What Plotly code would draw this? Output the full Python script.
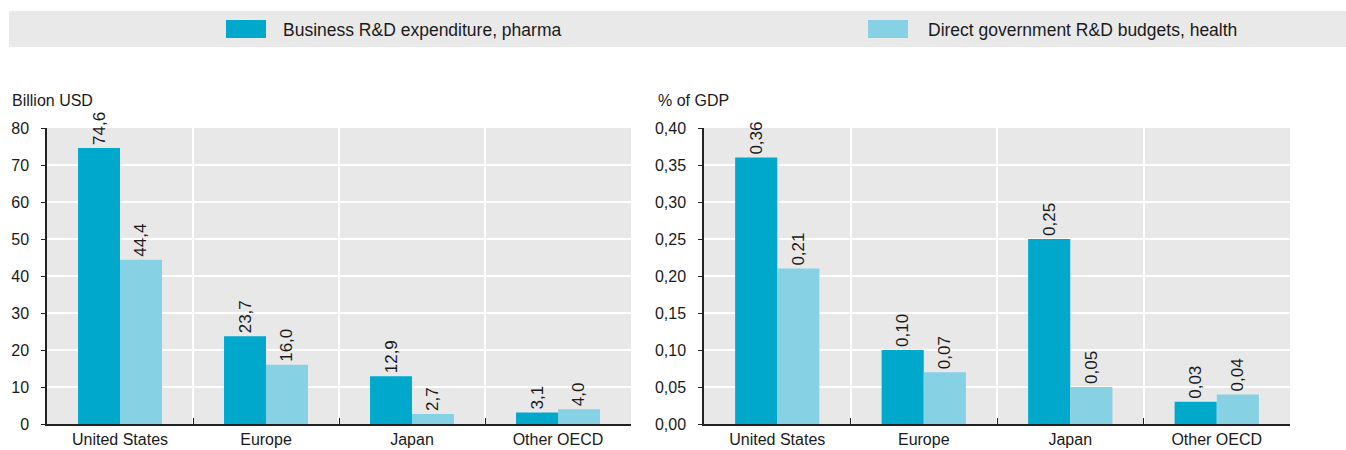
import plotly.graph_objects as go

regions = ["United States", "Europe", "Japan", "Other OECD"]
series_names = ["Business R&D expenditure, pharma", "Direct government R&D budgets, health"]

# Billion USD
business_usd = [74.6, 23.7, 12.9, 3.1]
government_usd = [44.4, 16.0, 2.7, 4.0]

# % of GDP
business_gdp = [0.36, 0.10, 0.25, 0.03]
government_gdp = [0.21, 0.07, 0.05, 0.04]

usd_ticks = [0, 10, 20, 30, 40, 50, 60, 70, 80]
gdp_ticks = [0.00, 0.05, 0.10, 0.15, 0.20, 0.25, 0.30, 0.35, 0.40]

DARK = "#00a9cc"
LIGHT = "#86d1e4"
PANEL_BG = "#e8e8e8"
FONT = "Liberation Sans, Arial, sans-serif"
TEXT = "#1a1a1a"

W, H = 1346, 450

def px_x(v):
    return v / W

def px_y(v):
    return 1 - v / H

fig = go.Figure()

panels = [
    ("x", "y", business_usd, government_usd, "%{y:.1f}"),
    ("x2", "y2", business_gdp, government_gdp, "%{y:.2f}"),
]
for xa, ya, b, g, fmt in panels:
    for vals, color, name in ((b, DARK, series_names[0]), (g, LIGHT, series_names[1])):
        fig.add_trace(go.Bar(
            x=regions, y=vals, name=name, marker=dict(color=color, line=dict(width=0)),
            xaxis=xa, yaxis=ya, texttemplate=fmt, textposition="outside",
            textangle=-90, cliponaxis=False, constraintext="none",
            textfont=dict(family=FONT, size=17, color=TEXT), showlegend=False,
        ))

y_dom = [px_y(424), px_y(128)]
common_x = dict(
    type="category", tickson="boundaries", ticks="inside", ticklen=6, tickcolor="#222",
    showline=True, linecolor="#222", linewidth=1.5, showgrid=True, gridcolor="white",
    gridwidth=1.5, tickfont=dict(family=FONT, size=16, color=TEXT), automargin=False,
    fixedrange=True,
)
common_y = dict(
    showline=True, linecolor="#222", linewidth=1.5, ticks="outside", ticklen=4,
    tickcolor="#222", showgrid=True, gridcolor="white", gridwidth=1.5, zeroline=False,
    tickfont=dict(family=FONT, size=16, color=TEXT), automargin=False, fixedrange=True,
    ticklabelstandoff=9,
)

fig.update_layout(
    width=W, height=H,
    margin=dict(l=0, r=0, t=0, b=0),
    paper_bgcolor="white", plot_bgcolor=PANEL_BG,
    barmode="group", bargap=0.425, bargroupgap=0,
    separators=", ",
    font=dict(family=FONT, color=TEXT),
    xaxis=dict(domain=[px_x(47), px_x(631)], anchor="y", **common_x),
    xaxis2=dict(domain=[px_x(704), px_x(1290)], anchor="y2", **common_x),
    yaxis=dict(domain=y_dom, anchor="x", range=[0, 80], tickvals=usd_ticks,
               tickformat="d", **common_y),
    yaxis2=dict(domain=y_dom, anchor="x2", range=[0, 0.40], tickvals=gdp_ticks,
                tickformat=".2f", **common_y),
    showlegend=False,
)

# Legend band with swatches and labels
shapes = [dict(type="rect", xref="paper", yref="paper", x0=px_x(9), x1=1,
               y0=px_y(47), y1=px_y(11), fillcolor="#e9e9e9", line=dict(width=0), layer="below")]
annotations = []
for name, color, sx, tx in ((series_names[0], DARK, 226, 281), (series_names[1], LIGHT, 868, 926)):
    shapes.append(dict(type="rect", xref="paper", yref="paper", x0=px_x(sx), x1=px_x(sx + 40),
                       y0=px_y(38), y1=px_y(20), fillcolor=color, line=dict(width=0)))
    annotations.append(dict(text=name, xref="paper", yref="paper", x=px_x(tx), y=px_y(30),
                            xanchor="left", yanchor="middle", showarrow=False,
                            font=dict(family=FONT, size=17.5, color=TEXT)))

# Unit labels above each value axis
for label, lx in (("Billion USD", 10), ("% of GDP", 656)):
    annotations.append(dict(text=label, xref="paper", yref="paper", x=px_x(lx), y=px_y(100),
                            xanchor="left", yanchor="middle", showarrow=False,
                            font=dict(family=FONT, size=16, color=TEXT)))

fig.update_layout(shapes=shapes, annotations=annotations)

fig.write_html("out.html")
